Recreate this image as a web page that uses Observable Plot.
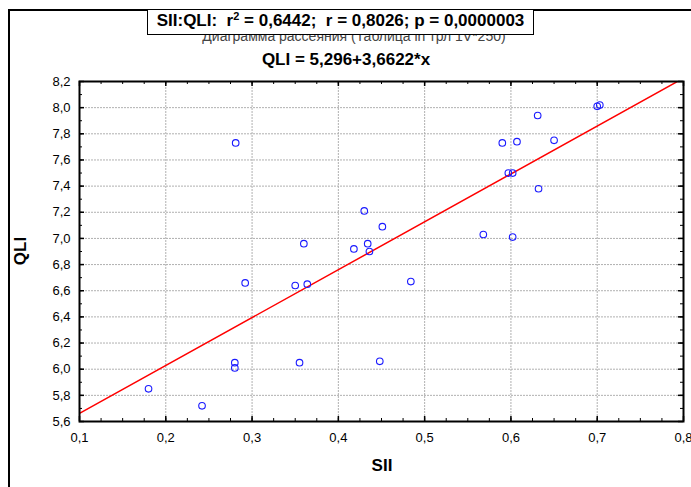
<!DOCTYPE html>
<html>
<head>
<meta charset="utf-8">
<script src="https://cdn.jsdelivr.net/npm/d3@7"></script>
<script src="https://cdn.jsdelivr.net/npm/@observablehq/plot@0.6"></script>
<style>
  html, body { margin: 0; padding: 0; background: #fff; }
  #wrap { position: relative; width: 691px; height: 487px; overflow: hidden; font-family: "Liberation Sans", Arial, sans-serif; }
  #chart { position: absolute; left: 0; top: 0; }
  .outer { position: absolute; left: 8px; top: 9px; width: 690px; height: 490px; border-left: 2px solid #000; border-top: 2px solid #000; box-sizing: border-box; }
  .ttl { position: absolute; font-family: "Liberation Sans Narrow", "Liberation Sans", Arial, sans-serif; font-weight: bold; color: #000; white-space: nowrap; }
  .ghost { position: absolute; left: 0; width: 708px; top: 28px; text-align: center; font-size: 14px; color: #444; white-space: nowrap; }
  .box { position: absolute; left: 147px; top: 9px; width: 387px; height: 26px; box-sizing: border-box; border: 1.5px solid #000; background: #fff; text-align: center; font-size: 17px; line-height: 22px; }
  .box sup { font-size: 11px; line-height: 0; vertical-align: 6px; }
</style>
</head>
<body>
<div id="wrap">
  <div id="chart"></div>
  <div class="outer"></div>
  <div class="ghost" id="ghost"></div>
  <div class="ttl box" id="box"></div>
  <div class="ttl" id="eq" style="left:0;width:692px;top:50px;text-align:center;font-size:17px;"></div>
  <div class="ttl" id="xlab" style="left:0;width:764px;top:456px;text-align:center;font-size:17px;"></div>
  <div class="ttl" id="ylab" style="left:21px;top:251px;font-size:17px;transform:translate(-50%,-50%) rotate(-90deg);"></div>
</div>
<script>
// ---- data ----
const sii = [0.180, 0.242, 0.280, 0.280, 0.281, 0.292, 0.350, 0.364, 0.355, 0.360,
             0.448, 0.418, 0.430, 0.434, 0.436, 0.451, 0.484, 0.568, 0.590, 0.597,
             0.602, 0.602, 0.607, 0.631, 0.632, 0.650, 0.700, 0.703];
const qli = [5.85, 5.72, 6.05, 6.01, 7.73, 6.66, 6.64, 6.65, 6.05, 6.96,
             6.06, 6.92, 7.21, 6.96, 6.90, 7.09, 6.67, 7.03, 7.73, 7.50,
             7.50, 7.01, 7.74, 7.94, 7.38, 7.75, 8.01, 8.02];
const intercept = 5.296;
const slope = 3.6622;
const lineX = [0.1, 0.8];
const xTicks = [0.1, 0.2, 0.3, 0.4, 0.5, 0.6, 0.7, 0.8];
const xTickLabels = ["0,1", "0,2", "0,3", "0,4", "0,5", "0,6", "0,7", "0,8"];
const yTicks = [5.6, 5.8, 6.0, 6.2, 6.4, 6.6, 6.8, 7.0, 7.2, 7.4, 7.6, 7.8, 8.0, 8.2];
const yTickLabels = ["5,6", "5,8", "6,0", "6,2", "6,4", "6,6", "6,8", "7,0", "7,2", "7,4", "7,6", "7,8", "8,0", "8,2"];
const statsText = {pair: "SII:QLI:", r2: "0,6442", r: "0,8026", p: "0,0000003"};
const ghostTitle = "Диаграмма рассеяния (Таблица in трл 1V*250)";
const equation = "QLI = 5,296+3,6622*x";
const xTitle = "SII";
const yTitle = "QLI";

// ---- build ----
const points = sii.map((x, i) => ({x, y: qli[i]}));
const reg = lineX.map(x => ({x, y: intercept + slope * x}));
const xMinor = d3.range(0.1, 0.8001, 0.025).map(v => +v.toFixed(3));
const yMinor = d3.range(5.6, 8.2001, 0.1).map(v => +v.toFixed(2));
const xGrid = xTicks.slice(1, -1);
const yGrid = yTicks.slice(1, -1);
const xFmt = d => xTickLabels[xTicks.findIndex(t => Math.abs(t - d) < 1e-9)];
const yFmt = d => yTickLabels[yTicks.findIndex(t => Math.abs(t - d) < 1e-9)];

const W = 691, H = 487, mL = 79, mR = 8, mT = 81, mB = 66;
const ph = H - mT - mB, pw = W - mL - mR;
const tickStyle = {stroke: "#000", strokeWidth: 1};

const chart = Plot.plot({
  width: W, height: H,
  marginLeft: mL, marginRight: mR, marginTop: mT, marginBottom: mB,
  style: {fontFamily: "'Liberation Sans', Arial, sans-serif", fontSize: "13px", color: "#000", background: "transparent", overflow: "visible"},
  x: {domain: [0.1, 0.8]},
  y: {domain: [5.6, 8.2]},
  marks: [
    Plot.ruleX(xGrid, {x: d => d, stroke: "#b0b0b0", strokeWidth: 1, strokeDasharray: "2,1"}),
    Plot.ruleY(yGrid, {y: d => d, stroke: "#b0b0b0", strokeWidth: 1, strokeDasharray: "2,1"}),
    Plot.line(reg, {x: "x", y: "y", stroke: "#ff0000", strokeWidth: 1.5, clip: true}),
    Plot.dot(points, {x: "x", y: "y", r: 3.3, stroke: "#1a1aff", strokeWidth: 1.1, fill: "none"}),
    // minor ticks (inward) on all sides
    Plot.tickX(xMinor, {x: d => d, insetTop: ph - 3, ...tickStyle}),
    Plot.tickX(xMinor, {x: d => d, insetBottom: ph - 3, ...tickStyle}),
    Plot.tickY(yMinor, {y: d => d, insetRight: pw - 3, ...tickStyle}),
    Plot.tickY(yMinor, {y: d => d, insetLeft: pw - 3, ...tickStyle}),
    // major ticks (inward)
    Plot.tickX(xTicks, {x: d => d, insetTop: ph - 5, ...tickStyle, strokeWidth: 1.5}),
    Plot.tickX(xTicks, {x: d => d, insetBottom: ph - 5, ...tickStyle, strokeWidth: 1.5}),
    Plot.tickY(yTicks, {y: d => d, insetRight: pw - 5, ...tickStyle, strokeWidth: 1.5}),
    Plot.tickY(yTicks, {y: d => d, insetLeft: pw - 5, ...tickStyle, strokeWidth: 1.5}),
    Plot.axisX(xTicks, {tickSize: 0, tickPadding: 11, tickFormat: xFmt, label: null, fontSize: 13}),
    Plot.axisY(yTicks, {tickSize: 0, tickPadding: 9, tickFormat: yFmt, label: null, fontSize: 13}),
    Plot.frame({stroke: "#000", strokeWidth: 2})
  ]
});
document.getElementById("chart").appendChild(chart);

document.getElementById("ghost").textContent = ghostTitle;
document.getElementById("box").innerHTML =
  `${statsText.pair}&nbsp; r<sup>2</sup> = ${statsText.r2};&nbsp; r = ${statsText.r}; p = ${statsText.p}`;
document.getElementById("eq").textContent = equation;
document.getElementById("xlab").textContent = xTitle;
document.getElementById("ylab").textContent = yTitle;
</script>
</body>
</html>
